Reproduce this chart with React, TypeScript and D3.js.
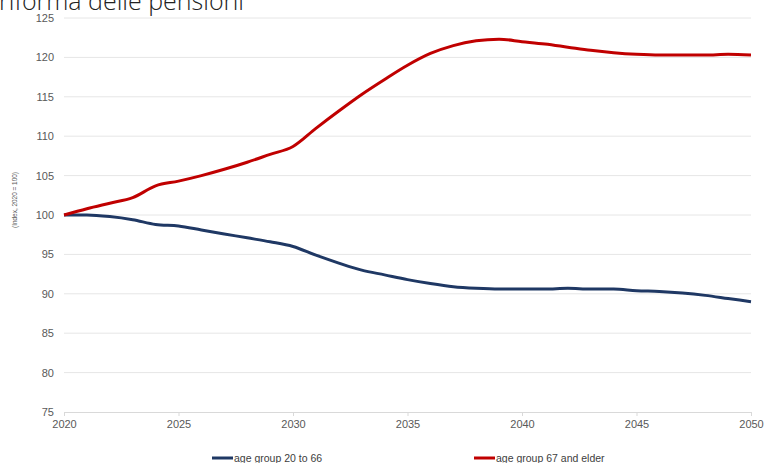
import React, { useEffect, useRef } from 'react';
import * as d3 from 'd3';

const years = d3.range(2020, 2051);
const working = [
  100, 100.0, 99.8, 99.4, 98.8, 98.6, 98.1, 97.6, 97.1, 96.6, 96.0,
  94.9, 93.9, 93.0, 92.4, 91.8, 91.3, 90.9, 90.7, 90.6, 90.6,
  90.6, 90.7, 90.6, 90.6, 90.4, 90.3, 90.1, 89.8, 89.4, 89.0,
];
const elder = [
  100, 100.8, 101.5, 102.2, 103.7, 104.3, 105.0, 105.8, 106.7, 107.7, 108.7,
  111.0, 113.2, 115.3, 117.2, 119.0, 120.5, 121.5, 122.1, 122.3, 122.0,
  121.7, 121.3, 120.9, 120.6, 120.4, 120.3, 120.3, 120.3, 120.4, 120.3,
];
const yTicks = [75, 80, 85, 90, 95, 100, 105, 110, 115, 120, 125];
const xTicks = [2020, 2025, 2030, 2035, 2040, 2045, 2050];
const seriesNames = ['age group 20 to 66', 'age group 67 and elder'];
const seriesColors = ['#1f3864', '#c00000'];

const App: React.FC = () => {
  const ref = useRef<SVGSVGElement>(null);

  useEffect(() => {
    if (!ref.current) return;
    const width = 765;
    const height = 463;
    const svg = d3.select(ref.current);
    svg.selectAll('*').remove();

    const x = d3.scaleLinear().domain([2020, 2050]).range([64, 751]);
    const y = d3.scaleLinear().domain([75, 125]).range([412, 18]);

    svg.append('rect').attr('width', width).attr('height', height).attr('fill', '#fff');

    // title, cut off by the top edge as in the source image
    svg.append('text')
      .attr('x', -1)
      .attr('y', 9.5)
      .attr('font-family', '"Open Sans", sans-serif')
      .attr('font-weight', 300)
      .attr('font-size', 25)
      .attr('fill', '#222')
      .text('riforma delle pensioni');

    // gridlines
    svg.append('g')
      .selectAll('line')
      .data(yTicks.filter(d => d !== 75))
      .join('line')
      .attr('x1', x(2020))
      .attr('x2', x(2050))
      .attr('y1', d => y(d))
      .attr('y2', d => y(d))
      .attr('stroke', '#e6e6e6')
      .attr('stroke-width', 1);

    // x axis
    const xAxis = svg.append('g')
      .attr('transform', `translate(0,${y(75)})`)
      .call(d3.axisBottom(x).tickValues(xTicks).tickFormat(d3.format('d')).tickSize(4).tickPadding(4));
    xAxis.select('.domain').attr('stroke', '#d9d9d9');
    xAxis.selectAll('.tick line').attr('stroke', '#d9d9d9');
    xAxis.selectAll('text')
      .attr('fill', '#595959')
      .attr('font-size', 11)
      .attr('font-family', '"Liberation Sans", Arial, sans-serif');

    // y axis labels
    const yAxis = svg.append('g')
      .attr('transform', `translate(${x(2020)},0)`)
      .call(d3.axisLeft(y).tickValues(yTicks).tickSize(0).tickPadding(10));
    yAxis.select('.domain').remove();
    yAxis.selectAll('text')
      .attr('fill', '#595959')
      .attr('font-size', 11)
      .attr('font-family', '"Liberation Sans", Arial, sans-serif');

    svg.append('text')
      .attr('transform', 'translate(17,200) rotate(-90)')
      .attr('text-anchor', 'middle')
      .attr('font-size', 8)
      .attr('textLength', 56)
      .attr('lengthAdjust', 'spacingAndGlyphs')
      .attr('fill', '#595959')
      .attr('font-family', '"Liberation Sans", Arial, sans-serif')
      .text('(Index, 2020 = 100)');

    const line = d3.line<number>()
      .x((_, i) => x(years[i]))
      .y(d => y(d))
      .curve(d3.curveMonotoneX);

    [working, elder].forEach((vals, i) => {
      svg.append('path')
        .datum(vals)
        .attr('d', line)
        .attr('fill', 'none')
        .attr('stroke', seriesColors[i])
        .attr('stroke-width', 3)
        .attr('stroke-linejoin', 'round');
    });

    // legend
    const legendX = [212, 474];
    const legend = svg.append('g')
      .selectAll('g')
      .data(seriesNames)
      .join('g')
      .attr('transform', (_, i) => `translate(${legendX[i]},458)`);
    legend.append('line')
      .attr('x1', 0).attr('x2', 21)
      .attr('stroke', (_, i) => seriesColors[i])
      .attr('stroke-width', 3);
    legend.append('text')
      .attr('x', 22)
      .attr('dy', '0.35em')
      .attr('font-size', 10.5)
      .attr('fill', '#404040')
      .attr('font-family', '"Liberation Sans", Arial, sans-serif')
      .text(d => d);
  }, []);

  return (
    <svg
      ref={ref}
      width={765}
      height={463}
      style={{ position: 'absolute', left: 0, top: 0, display: 'block' }}
    />
  );
};

export default App;
